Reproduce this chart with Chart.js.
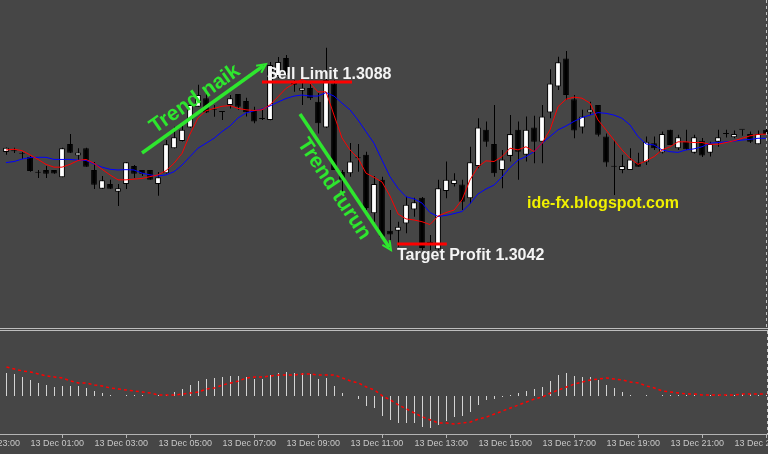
<!DOCTYPE html>
<html>
<head>
<meta charset="utf-8">
<title>EURUSD M15</title>
<script src="https://cdn.jsdelivr.net/npm/chart.js@4.4.0/dist/chart.umd.min.js"></script>
<style>
  html, body { margin: 0; padding: 0; background: #464646; }
  #wrap { position: relative; width: 768px; height: 454px; overflow: hidden; background: #464646; }
  #mainChart { position: absolute; left: 0; top: 0; }
  #subChart { position: absolute; left: 0; top: 331px; }
  .sep { position: absolute; left: 0; width: 768px; height: 1px; background: #bdbdbd; }
</style>
</head>
<body>
<div id="wrap">
  <canvas id="mainChart" width="768" height="328"></canvas>
  <div class="sep" style="top:328px"></div>
  <div class="sep" style="top:330px"></div>
  <canvas id="subChart" width="768" height="123"></canvas>
</div>
<script>
// 15 minute candles, 13 Dec, bar 0 = 00:15
const open = [1.30681,1.30683,1.30676,1.30667,1.30622,1.30630,1.30630,1.30609,1.30704,1.30671,
  1.30692,1.30630,1.30577,1.30590,1.30568,1.30590,1.30641,1.30630,1.30630,1.30590,
  1.30621,1.30692,1.30712,1.30751,1.30810,1.30834,1.30801,1.30795,1.30815,1.30846,
  1.30826,1.30801,1.30775,1.30772,1.30897,1.30948,1.30880,1.30855,1.30863,1.30824,
  1.30751,1.30876,1.30624,1.30621,1.30663,1.30673,1.30507,1.30602,1.30457,1.30457,
  1.30478,1.30518,1.30551,1.30426,1.30405,1.30570,1.30590,1.30589,1.30550,1.30641,
  1.30744,1.30704,1.30630,1.30670,1.30744,1.30673,1.30751,1.30710,1.30793,1.30867,
  1.30947,1.30831,1.30751,1.30793,1.30815,1.30725,1.30639,1.30630,1.30630,1.30651,
  1.30652,1.30706,1.30680,1.30744,1.30692,1.30710,1.30679,1.30713,1.30679,1.30710,
  1.30732,1.30723,1.30744,1.30732,1.30703,1.30744];
const high = [1.30694,1.30693,1.30681,1.30670,1.30630,1.30641,1.30630,1.30693,1.30732,1.30692,
  1.30693,1.30653,1.30613,1.30602,1.30590,1.30653,1.30644,1.30630,1.30630,1.30624,
  1.30715,1.30753,1.30763,1.30835,1.30872,1.30849,1.30815,1.30795,1.30843,1.30846,
  1.30835,1.30810,1.30801,1.30937,1.30951,1.30957,1.30886,1.30881,1.30874,1.30849,
  1.30977,1.30886,1.30630,1.30707,1.30704,1.30682,1.30613,1.30611,1.30516,1.30483,
  1.30554,1.30551,1.30553,1.30445,1.30602,1.30654,1.30621,1.30602,1.30696,1.30777,
  1.30768,1.30815,1.30687,1.30786,1.30768,1.30782,1.30784,1.30815,1.30916,1.30952,
  1.30968,1.30843,1.30801,1.30824,1.30815,1.30734,1.30715,1.30673,1.30692,1.30679,
  1.30725,1.30725,1.30739,1.30744,1.30730,1.30744,1.30730,1.30721,1.30710,1.30744,
  1.30744,1.30742,1.30744,1.30739,1.30742,1.30749];
const low = [1.30673,1.30678,1.30661,1.30625,1.30607,1.30607,1.30619,1.30609,1.30678,1.30658,
  1.30639,1.30576,1.30576,1.30576,1.30528,1.30576,1.30607,1.30613,1.30602,1.30557,
  1.30620,1.30691,1.30711,1.30749,1.30809,1.30792,1.30781,1.30772,1.30805,1.30801,
  1.30782,1.30763,1.30772,1.30771,1.30891,1.30900,1.30852,1.30815,1.30829,1.30734,
  1.30749,1.30630,1.30565,1.30611,1.30625,1.30516,1.30483,1.30431,1.30417,1.30412,
  1.30450,1.30497,1.30402,1.30402,1.30402,1.30550,1.30583,1.30516,1.30535,1.30635,
  1.30696,1.30611,1.30578,1.30654,1.30602,1.30654,1.30649,1.30649,1.30777,1.30857,
  1.30829,1.30720,1.30734,1.30786,1.30725,1.30639,1.30559,1.30621,1.30630,1.30639,
  1.30644,1.30687,1.30677,1.30701,1.30687,1.30687,1.30677,1.30667,1.30668,1.30696,
  1.30722,1.30720,1.30727,1.30707,1.30703,1.30732];
const close = [1.30693,1.30683,1.30676,1.30627,1.30622,1.30619,1.30620,1.30692,1.30679,1.30680,
  1.30639,1.30588,1.30601,1.30577,1.30578,1.30652,1.30619,1.30619,1.30602,1.30609,
  1.30703,1.30723,1.30744,1.30815,1.30843,1.30793,1.30801,1.30795,1.30834,1.30810,
  1.30794,1.30768,1.30775,1.30928,1.30937,1.30905,1.30872,1.30864,1.30834,1.30763,
  1.30886,1.30630,1.30602,1.30654,1.30663,1.30522,1.30590,1.30440,1.30447,1.30469,
  1.30531,1.30538,1.30408,1.30419,1.30578,1.30602,1.30602,1.30540,1.30652,1.30751,
  1.30710,1.30621,1.30660,1.30732,1.30682,1.30744,1.30710,1.30782,1.30876,1.30936,
  1.30843,1.30742,1.30782,1.30802,1.30730,1.30651,1.30639,1.30641,1.30660,1.30639,
  1.30710,1.30692,1.30732,1.30701,1.30723,1.30689,1.30723,1.30671,1.30704,1.30723,
  1.30732,1.30732,1.30744,1.30710,1.30732,1.30732];

// moving averages (red = fast, blue = slow)
const maFast = [1.30687,1.30689,1.30685,1.30673,1.30660,1.30646,1.30638,1.30638,1.30646,1.30657,
  1.30660,1.30649,1.30632,1.30616,1.30602,1.30602,1.30604,1.30606,1.30611,1.30616,
  1.30628,1.30649,1.30677,1.30732,1.30778,1.30798,1.30805,1.30811,1.30813,1.30805,
  1.30801,1.30799,1.30801,1.30815,1.30838,1.30862,1.30876,1.30887,1.30877,1.30852,
  1.30852,1.30786,1.30721,1.30687,1.30664,1.30621,1.30609,1.30596,1.30556,1.30505,
  1.30491,1.30488,1.30483,1.30475,1.30499,1.30509,1.30516,1.30545,1.30602,1.30639,
  1.30656,1.30654,1.30668,1.30692,1.30687,1.30696,1.30682,1.30706,1.30744,1.30810,
  1.30831,1.30837,1.30834,1.30820,1.30772,1.30744,1.30715,1.30687,1.30663,1.30646,
  1.30656,1.30668,1.30687,1.30696,1.30710,1.30710,1.30708,1.30708,1.30703,1.30703,
  1.30708,1.30713,1.30720,1.30727,1.30731,1.30732];
const maSlow = [1.30651,1.30654,1.30661,1.30665,1.30666,1.30666,1.30660,1.30660,1.30660,1.30658,
  1.30657,1.30647,1.30638,1.30632,1.30630,1.30631,1.30630,1.30621,1.30616,1.30613,
  1.30616,1.30625,1.30644,1.30668,1.30692,1.30706,1.30720,1.30739,1.30755,1.30778,
  1.30792,1.30798,1.30803,1.30812,1.30823,1.30833,1.30840,1.30843,1.30840,1.30840,
  1.30850,1.30840,1.30820,1.30801,1.30772,1.30739,1.30706,1.30658,1.30611,1.30578,
  1.30554,1.30548,1.30536,1.30509,1.30498,1.30501,1.30506,1.30512,1.30534,1.30562,
  1.30576,1.30587,1.30610,1.30637,1.30658,1.30668,1.30682,1.30706,1.30725,1.30744,
  1.30755,1.30768,1.30779,1.30786,1.30793,1.30791,1.30786,1.30777,1.30758,1.30725,
  1.30704,1.30701,1.30687,1.30682,1.30680,1.30687,1.30690,1.30696,1.30706,1.30708,
  1.30710,1.30712,1.30715,1.30717,1.30720,1.30720];

// MACD histogram and signal
const macdHist = [0.00023,0.00022,0.00019,0.00016,0.00013,0.00011,0.00009,0.00010,0.00010,0.00010,
  0.00008,0.00005,0.00003,0.00001,0,0.00001,0.00001,0.00001,0,0.00001,
  0.00001,0.00004,0.00007,0.00011,0.00015,0.00017,0.00018,0.00019,0.00020,0.00020,
  0.00019,0.00017,0.00017,0.00021,0.00023,0.00024,0.00023,0.00023,0.00022,0.00017,
  0.00018,0.00010,0.00003,0,-0.00003,-0.00010,-0.00012,-0.00020,-0.00024,-0.00027,
  -0.00027,-0.00027,-0.00031,-0.00032,-0.00029,-0.00025,-0.00021,-0.00020,-0.00016,-0.00009,
  -0.00004,-0.00003,-0.00001,0.00001,0.00003,0.00005,0.00007,0.00009,0.00015,0.00021,
  0.00023,0.00020,0.00019,0.00019,0.00016,0.00011,0.00008,0.00004,0.00001,0,
  0.00001,0,0.00001,0.00001,0.00001,0.00001,0.00001,0,0.00001,0.00001,
  0.00001,0.00001,0.00002,0.00002,0.00001,0.00001];
const macdSignal = [0.00029,0.00027,0.00025,0.00024,0.00022,0.00020,0.00019,0.00018,0.00015,0.00013,
  0.00013,0.00011,0.00010,0.00008,0.00007,0.00006,0.00005,0.00004,0.00003,0.00001,
  0.00001,0.00001,0.00002,0.00003,0.00004,0.00007,0.00008,0.00011,0.00013,0.00015,
  0.00018,0.00019,0.00019,0.00020,0.00021,0.00021,0.00021,0.00022,0.00022,0.00021,
  0.00021,0.00021,0.00018,0.00015,0.00013,0.00009,0.00006,0,-0.00004,-0.00009,
  -0.00013,-0.00017,-0.00021,-0.00024,-0.00027,-0.00027,-0.00028,-0.00027,-0.00026,-0.00023,
  -0.00021,-0.00018,-0.00015,-0.00012,-0.00009,-0.00006,-0.00003,-0.00001,0.00003,0.00006,
  0.00009,0.00012,0.00014,0.00016,0.00017,0.00018,0.00017,0.00016,0.00014,0.00013,
  0.00010,0.00008,0.00005,0.00004,0.00003,0.00002,0.00002,0.00001,0.00001,0.00001,
  0.00001,0.00001,0.00002,0.00002,0.00002,0.00002];

// time axis: one tick every 8 bars (2 hours)
const tickBars = [-5, 3, 11, 19, 27, 35, 43, 51, 59, 67, 75, 83, 91];
const tickLabels = ['12 Dec 23:00', '13 Dec 01:00', '13 Dec 03:00', '13 Dec 05:00', '13 Dec 07:00',
  '13 Dec 09:00', '13 Dec 11:00', '13 Dec 13:00', '13 Dec 15:00', '13 Dec 17:00',
  '13 Dec 19:00', '13 Dec 21:00', '13 Dec 23:00'];

const sellLimit = 1.3088;
const targetProfit = 1.3042;

const X_MIN = -0.75, X_MAX = 95.25;
// half a pixel to the right, so 1px wicks and histogram bars land on whole pixels
const X_HALF = 0.0625;
const lastBar = open.length - 1;

const bars = open.map((_, i) => i);

// dashed line at the last bar, used on both panels
const shiftLine = {
  id: 'shiftLine',
  afterDraw(chart) {
    const { ctx, chartArea, scales } = chart;
    const px = Math.round(scales.x.getPixelForValue(lastBar)) + 0.5;
    ctx.save();
    ctx.strokeStyle = '#c4c4c4';
    ctx.lineWidth = 1;
    ctx.setLineDash([3, 3]);
    ctx.beginPath();
    ctx.moveTo(px, chartArea.top);
    ctx.lineTo(px, chartArea.bottom);
    ctx.stroke();
    ctx.restore();
  }
};

function arrow(ctx, x1, y1, x2, y2) {
  const ang = Math.atan2(y2 - y1, x2 - x1);
  ctx.lineWidth = 3.5;
  ctx.beginPath();
  ctx.moveTo(x1, y1);
  ctx.lineTo(x2 - 3 * Math.cos(ang), y2 - 3 * Math.sin(ang));
  ctx.stroke();
  ctx.lineWidth = 2;
  ctx.beginPath();
  ctx.moveTo(x2 - 10 * Math.cos(ang - 0.45), y2 - 10 * Math.sin(ang - 0.45));
  ctx.lineTo(x2, y2);
  ctx.lineTo(x2 - 10 * Math.cos(ang + 0.45), y2 - 10 * Math.sin(ang + 0.45));
  ctx.stroke();
}

const notes = {
  id: 'notes',
  afterDraw(chart) {
    const { ctx, scales: { x, y } } = chart;
    ctx.save();

    // order levels
    ctx.strokeStyle = '#ff0000';
    ctx.lineWidth = 3;
    ctx.beginPath();
    ctx.moveTo(x.getPixelForValue(32), y.getPixelForValue(sellLimit));
    ctx.lineTo(x.getPixelForValue(43.25), y.getPixelForValue(sellLimit));
    ctx.moveTo(x.getPixelForValue(48.9), y.getPixelForValue(targetProfit));
    ctx.lineTo(x.getPixelForValue(55.1), y.getPixelForValue(targetProfit));
    ctx.stroke();

    // trend arrows
    ctx.strokeStyle = '#2ee62e';
    ctx.lineCap = 'butt';
    arrow(ctx, 142, 153, 266, 64);
    arrow(ctx, 300, 114, 391, 250);

    ctx.fillStyle = '#2ee62e';
    ctx.font = 'bold 21px "Liberation Sans", Arial, sans-serif';
    ctx.textAlign = 'center';
    ctx.textBaseline = 'middle';
    ctx.save();
    ctx.translate(195, 99);
    ctx.rotate(-35 * Math.PI / 180);
    ctx.fillText('Trend naik', 0, 0);
    ctx.restore();
    ctx.save();
    ctx.translate(334, 189);
    ctx.rotate(56.5 * Math.PI / 180);
    ctx.fillText('Trend turun', 0, 0);
    ctx.restore();

    ctx.textAlign = 'left';
    ctx.textBaseline = 'alphabetic';
    ctx.font = 'bold 16px "Liberation Sans", Arial, sans-serif';
    ctx.fillStyle = '#f4f4f4';
    ctx.fillText('Sell Limit ' + sellLimit.toFixed(4), 267, 78.5);
    ctx.fillText('Target Profit ' + targetProfit.toFixed(4), 397, 259.5);
    ctx.fillStyle = '#f0f000';
    ctx.fillText('ide-fx.blogspot.com', 527, 208);
    ctx.restore();
  }
};

new Chart(document.getElementById('mainChart'), {
  type: 'bar',
  data: {
    datasets: [
      {
        type: 'line',
        data: bars.map(i => ({ x: i, y: maFast[i] })),
        borderColor: '#ff0000',
        borderWidth: 1,
        pointRadius: 0,
        order: 0
      },
      {
        type: 'line',
        data: bars.map(i => ({ x: i, y: maSlow[i] })),
        borderColor: '#0000ff',
        borderWidth: 1,
        pointRadius: 0,
        order: 1
      },
      {
        data: bars.map(i => ({ x: i, y: [open[i], close[i]] })),
        backgroundColor: bars.map(i => close[i] > open[i] ? '#ffffff' : '#000000'),
        borderColor: '#000000',
        borderWidth: 1,
        borderSkipped: false,
        minBarLength: 1,
        maxBarThickness: 6,
        grouped: false,
        order: 2
      },
      {
        xAxisID: 'xw',
        data: bars.map(i => ({ x: i, y: [low[i], high[i]] })),
        backgroundColor: '#000000',
        borderWidth: 0,
        maxBarThickness: 1,
        grouped: false,
        order: 3
      }
    ]
  },
  options: {
    responsive: false,
    animation: false,
    devicePixelRatio: 1,
    layout: { padding: 0 },
    plugins: { legend: { display: false }, tooltip: { enabled: false } },
    scales: {
      x: { type: 'linear', min: X_MIN, max: X_MAX, offset: false, bounds: 'data', display: false },
      xw: { type: 'linear', axis: 'x', min: X_MIN - X_HALF, max: X_MAX - X_HALF, offset: false, bounds: 'data', display: false },
      y: { type: 'linear', min: 1.30181, max: 1.31113, display: false }
    }
  },
  plugins: [shiftLine, notes]
});

new Chart(document.getElementById('subChart'), {
  type: 'bar',
  data: {
    datasets: [
      {
        type: 'line',
        data: bars.map(i => ({ x: i, y: macdSignal[i] })),
        borderColor: '#ff0000',
        borderWidth: 1.5,
        borderDash: [3, 3],
        pointRadius: 0,
        order: 0
      },
      {
        data: bars.map(i => ({ x: i, y: macdHist[i] })),
        backgroundColor: '#d4d4d4',
        borderWidth: 0,
        maxBarThickness: 1,
        grouped: false,
        order: 1
      }
    ]
  },
  options: {
    responsive: false,
    animation: false,
    devicePixelRatio: 1,
    layout: { padding: 0 },
    plugins: { legend: { display: false }, tooltip: { enabled: false } },
    scales: {
      x: {
        type: 'linear',
        min: X_MIN - X_HALF,
        max: X_MAX - X_HALF,
        offset: false,
        bounds: 'data',
        afterBuildTicks: (scale) => { scale.ticks = tickBars.map(v => ({ value: v })); },
        afterFit: (scale) => { scale.paddingLeft = 0; scale.paddingRight = 0; scale.height = 20; },
        grid: { display: true, drawOnChartArea: false, drawTicks: true, tickLength: 4, color: '#b4b4b4' },
        border: { display: true, color: '#b4b4b4' },
        ticks: {
          autoSkip: false,
          maxRotation: 0,
          minRotation: 0,
          align: 'start',
          padding: 0,
          color: '#c8c8c8',
          font: { family: '"Liberation Sans", Arial, sans-serif', size: 9 },
          callback: (v, idx) => tickLabels[idx]
        }
      },
      y: { type: 'linear', min: -0.00038, max: 0.00065, display: false }
    }
  },
  plugins: [shiftLine]
});
</script>
</body>
</html>
